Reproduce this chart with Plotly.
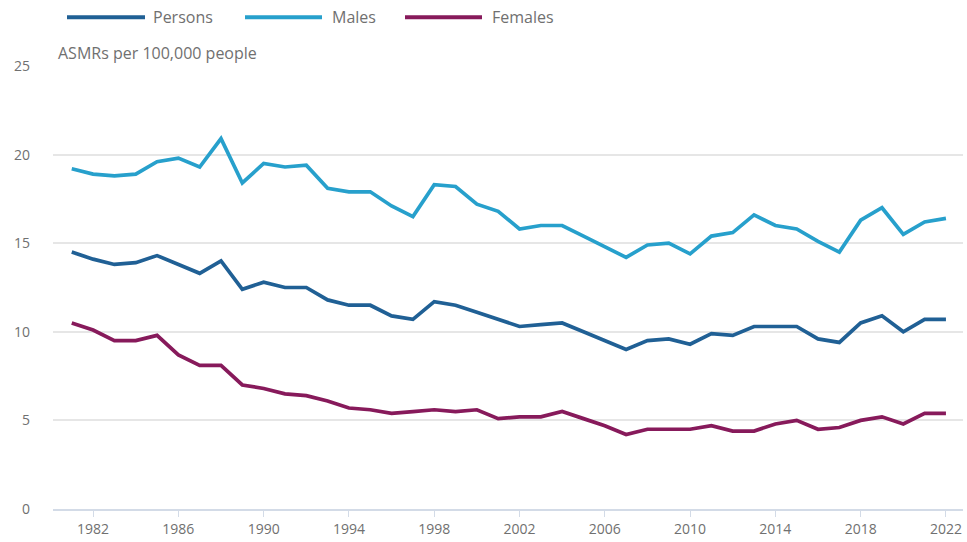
import plotly.graph_objects as go

years = list(range(1981, 2023))
persons = [14.5, 14.1, 13.8, 13.9, 14.3, 13.8, 13.3, 14.0, 12.4, 12.8, 12.5, 12.5, 11.8, 11.5, 11.5, 10.9, 10.7, 11.7, 11.5, 11.1, 10.7,
           10.3, 10.4, 10.5, 10.0, 9.5, 9.0, 9.5, 9.6, 9.3, 9.9, 9.8, 10.3, 10.3, 10.3, 9.6, 9.4, 10.5, 10.9, 10.0, 10.7, 10.7]
males = [19.2, 18.9, 18.8, 18.9, 19.6, 19.8, 19.3, 20.9, 18.4, 19.5, 19.3, 19.4, 18.1, 17.9, 17.9, 17.1, 16.5, 18.3, 18.2, 17.2, 16.8,
         15.8, 16.0, 16.0, 15.4, 14.8, 14.2, 14.9, 15.0, 14.4, 15.4, 15.6, 16.6, 16.0, 15.8, 15.1, 14.5, 16.3, 17.0, 15.5, 16.2, 16.4]
females = [10.5, 10.1, 9.5, 9.5, 9.8, 8.7, 8.1, 8.1, 7.0, 6.8, 6.5, 6.4, 6.1, 5.7, 5.6, 5.4, 5.5, 5.6, 5.5, 5.6, 5.1,
           5.2, 5.2, 5.5, 5.1, 4.7, 4.2, 4.5, 4.5, 4.5, 4.7, 4.4, 4.4, 4.8, 5.0, 4.5, 4.6, 5.0, 5.2, 4.8, 5.4, 5.4]
series_names = ["Persons", "Males", "Females"]
colors = ["#206095", "#27a0cc", "#871a5b"]
x_ticks = list(range(1982, 2023, 4))
y_ticks = [0, 5, 10, 15, 20, 25]
y_title = "ASMRs per 100,000 people"

W, H = 967, 542
L, R, T, B = 53, 4, 66, 30
pw, ph = W - L - R, H - T - B

def px(x):
    return (x - L) / pw

def py(y):
    return (H - B - y) / ph

text_color = "#707070"
font_family = "Open Sans, Noto Sans, sans-serif"

fig = go.Figure()
for name, vals, c in zip(series_names, [persons, males, females], colors):
    fig.add_trace(go.Scatter(x=years, y=vals, mode="lines", name=name,
                             line=dict(color=c, width=3.7), showlegend=False))

# custom legend
shapes = []
annotations = []
legend_pos = [(67, 145, 151), (245, 322, 330), (405, 482, 490)]
for (x0, x1, tx), name, c in zip(legend_pos, series_names, colors):
    shapes.append(dict(type="line", xref="paper", yref="paper", x0=px(x0), x1=px(x1),
                       y0=py(17), y1=py(17), line=dict(color=c, width=4)))
    annotations.append(dict(xref="paper", yref="paper", x=px(tx), y=py(17), text=name,
                            showarrow=False, xanchor="left", yanchor="middle",
                            font=dict(size=16, color=text_color, family=font_family)))

annotations.append(dict(xref="paper", yref="paper", x=px(56), y=py(53), text=y_title,
                        showarrow=False, xanchor="left", yanchor="middle",
                        font=dict(size=16, color=text_color, family=font_family)))

fig.update_layout(
    width=W, height=H,
    margin=dict(l=L, r=R, t=T, b=B),
    paper_bgcolor="white", plot_bgcolor="white",
    font=dict(family=font_family, color=text_color, size=14),
    shapes=shapes, annotations=annotations,
    xaxis=dict(range=[1980.12, 2022.8], tickvals=x_ticks, showgrid=False,
               showline=True, linecolor="#d3dbe7", linewidth=2,
               ticks="outside", ticklen=6, tickcolor="#d3dbe7",
               tickfont=dict(size=14, color=text_color), zeroline=False),
    yaxis=dict(range=[0, 25], tickvals=y_ticks, showgrid=True, gridcolor="#e6e6e6",
               gridwidth=1.5, zeroline=False, showline=False, ticks="",
               ticklabelstandoff=22,
               tickfont=dict(size=14, color=text_color)),
)

fig.write_html("out.html", config={"displayModeBar": False},
               post_script="document.body.style.margin='0';document.body.style.overflow='hidden';")
